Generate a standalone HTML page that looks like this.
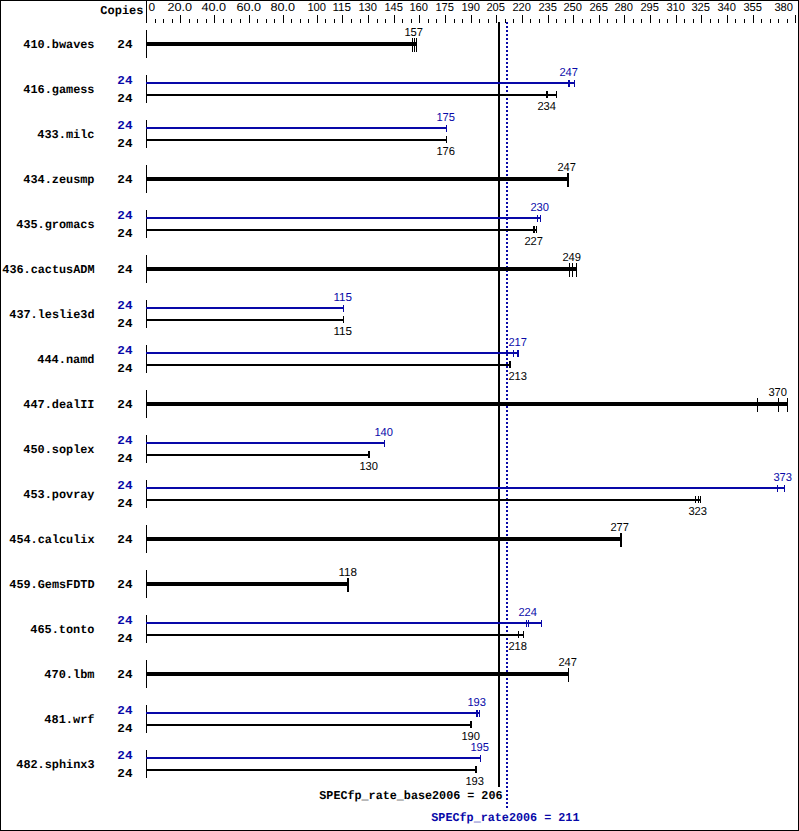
<!DOCTYPE html>
<html><head><meta charset="utf-8"><title>SPECfp_rate2006</title>
<style>
html,body{margin:0;padding:0;background:#fff;}
svg{display:block;}
.r{font-family:"Liberation Sans",sans-serif;font-size:11.6px;stroke-width:0;}
.b{font-family:"Liberation Mono",monospace;font-size:12px;font-weight:bold;}
</style></head><body>
<svg width="799" height="831" viewBox="0 0 799 831" shape-rendering="crispEdges" text-rendering="geometricPrecision">
<rect x="0" y="0" width="799" height="1" fill="#000"/>
<rect x="0" y="830" width="799" height="1" fill="#000"/>
<rect x="0" y="0" width="1" height="831" fill="#000"/>
<rect x="798" y="0" width="1" height="831" fill="#000"/>
<text x="100.3" y="14" textLength="43.2" lengthAdjust="spacingAndGlyphs" class="b" fill="#000">Copies</text>
<rect x="146" y="0" width="1" height="23" fill="#000"/>
<rect x="155" y="19" width="1" height="4" fill="#000"/>
<rect x="163" y="19" width="1" height="4" fill="#000"/>
<rect x="172" y="19" width="1" height="4" fill="#000"/>
<rect x="180" y="15" width="1" height="8" fill="#000"/>
<rect x="189" y="19" width="1" height="4" fill="#000"/>
<rect x="197" y="19" width="1" height="4" fill="#000"/>
<rect x="206" y="19" width="1" height="4" fill="#000"/>
<rect x="214" y="15" width="1" height="8" fill="#000"/>
<rect x="223" y="19" width="1" height="4" fill="#000"/>
<rect x="231" y="19" width="1" height="4" fill="#000"/>
<rect x="240" y="19" width="1" height="4" fill="#000"/>
<rect x="249" y="15" width="1" height="8" fill="#000"/>
<rect x="257" y="19" width="1" height="4" fill="#000"/>
<rect x="266" y="19" width="1" height="4" fill="#000"/>
<rect x="274" y="19" width="1" height="4" fill="#000"/>
<rect x="283" y="15" width="1" height="8" fill="#000"/>
<rect x="291" y="19" width="1" height="4" fill="#000"/>
<rect x="300" y="19" width="1" height="4" fill="#000"/>
<rect x="308" y="19" width="1" height="4" fill="#000"/>
<rect x="317" y="15" width="1" height="8" fill="#000"/>
<rect x="325" y="19" width="1" height="4" fill="#000"/>
<rect x="334" y="19" width="1" height="4" fill="#000"/>
<rect x="342" y="15" width="1" height="8" fill="#000"/>
<rect x="351" y="19" width="1" height="4" fill="#000"/>
<rect x="360" y="19" width="1" height="4" fill="#000"/>
<rect x="368" y="15" width="1" height="8" fill="#000"/>
<rect x="377" y="19" width="1" height="4" fill="#000"/>
<rect x="385" y="19" width="1" height="4" fill="#000"/>
<rect x="394" y="15" width="1" height="8" fill="#000"/>
<rect x="402" y="19" width="1" height="4" fill="#000"/>
<rect x="411" y="19" width="1" height="4" fill="#000"/>
<rect x="419" y="15" width="1" height="8" fill="#000"/>
<rect x="428" y="19" width="1" height="4" fill="#000"/>
<rect x="436" y="19" width="1" height="4" fill="#000"/>
<rect x="445" y="15" width="1" height="8" fill="#000"/>
<rect x="454" y="19" width="1" height="4" fill="#000"/>
<rect x="462" y="19" width="1" height="4" fill="#000"/>
<rect x="471" y="15" width="1" height="8" fill="#000"/>
<rect x="479" y="19" width="1" height="4" fill="#000"/>
<rect x="488" y="19" width="1" height="4" fill="#000"/>
<rect x="496" y="15" width="1" height="8" fill="#000"/>
<rect x="505" y="19" width="1" height="4" fill="#000"/>
<rect x="513" y="19" width="1" height="4" fill="#000"/>
<rect x="522" y="15" width="1" height="8" fill="#000"/>
<rect x="530" y="19" width="1" height="4" fill="#000"/>
<rect x="539" y="19" width="1" height="4" fill="#000"/>
<rect x="548" y="15" width="1" height="8" fill="#000"/>
<rect x="556" y="19" width="1" height="4" fill="#000"/>
<rect x="565" y="19" width="1" height="4" fill="#000"/>
<rect x="573" y="15" width="1" height="8" fill="#000"/>
<rect x="582" y="19" width="1" height="4" fill="#000"/>
<rect x="590" y="19" width="1" height="4" fill="#000"/>
<rect x="599" y="15" width="1" height="8" fill="#000"/>
<rect x="607" y="19" width="1" height="4" fill="#000"/>
<rect x="616" y="19" width="1" height="4" fill="#000"/>
<rect x="624" y="15" width="1" height="8" fill="#000"/>
<rect x="633" y="19" width="1" height="4" fill="#000"/>
<rect x="641" y="19" width="1" height="4" fill="#000"/>
<rect x="650" y="15" width="1" height="8" fill="#000"/>
<rect x="659" y="19" width="1" height="4" fill="#000"/>
<rect x="667" y="19" width="1" height="4" fill="#000"/>
<rect x="676" y="15" width="1" height="8" fill="#000"/>
<rect x="684" y="19" width="1" height="4" fill="#000"/>
<rect x="693" y="19" width="1" height="4" fill="#000"/>
<rect x="701" y="15" width="1" height="8" fill="#000"/>
<rect x="710" y="19" width="1" height="4" fill="#000"/>
<rect x="718" y="19" width="1" height="4" fill="#000"/>
<rect x="727" y="15" width="1" height="8" fill="#000"/>
<rect x="735" y="19" width="1" height="4" fill="#000"/>
<rect x="744" y="19" width="1" height="4" fill="#000"/>
<rect x="753" y="15" width="1" height="8" fill="#000"/>
<rect x="761" y="19" width="1" height="4" fill="#000"/>
<rect x="770" y="19" width="1" height="4" fill="#000"/>
<rect x="778" y="19" width="1" height="4" fill="#000"/>
<rect x="787" y="19" width="1" height="4" fill="#000"/>
<rect x="795" y="15" width="1" height="8" fill="#000"/>
<text x="148.4" y="11" textLength="6.6" lengthAdjust="spacingAndGlyphs" class="r" fill="#000" stroke="#000">0</text>
<text x="167.4" y="11" textLength="24.6" lengthAdjust="spacingAndGlyphs" class="r" fill="#000" stroke="#000">20.0</text>
<text x="201.4" y="11" textLength="24.6" lengthAdjust="spacingAndGlyphs" class="r" fill="#000" stroke="#000">40.0</text>
<text x="236.4" y="11" textLength="24.6" lengthAdjust="spacingAndGlyphs" class="r" fill="#000" stroke="#000">60.0</text>
<text x="270.4" y="11" textLength="24.6" lengthAdjust="spacingAndGlyphs" class="r" fill="#000" stroke="#000">80.0</text>
<text x="307.4" y="11" textLength="18.6" lengthAdjust="spacingAndGlyphs" class="r" fill="#000" stroke="#000">100</text>
<text x="332.4" y="11" textLength="18.6" lengthAdjust="spacingAndGlyphs" class="r" fill="#000" stroke="#000">115</text>
<text x="358.4" y="11" textLength="18.6" lengthAdjust="spacingAndGlyphs" class="r" fill="#000" stroke="#000">130</text>
<text x="384.4" y="11" textLength="18.6" lengthAdjust="spacingAndGlyphs" class="r" fill="#000" stroke="#000">145</text>
<text x="409.4" y="11" textLength="18.6" lengthAdjust="spacingAndGlyphs" class="r" fill="#000" stroke="#000">160</text>
<text x="435.4" y="11" textLength="18.6" lengthAdjust="spacingAndGlyphs" class="r" fill="#000" stroke="#000">175</text>
<text x="461.4" y="11" textLength="18.6" lengthAdjust="spacingAndGlyphs" class="r" fill="#000" stroke="#000">190</text>
<text x="486.4" y="11" textLength="18.6" lengthAdjust="spacingAndGlyphs" class="r" fill="#000" stroke="#000">205</text>
<text x="512.4" y="11" textLength="18.6" lengthAdjust="spacingAndGlyphs" class="r" fill="#000" stroke="#000">220</text>
<text x="538.4" y="11" textLength="18.6" lengthAdjust="spacingAndGlyphs" class="r" fill="#000" stroke="#000">235</text>
<text x="563.4" y="11" textLength="18.6" lengthAdjust="spacingAndGlyphs" class="r" fill="#000" stroke="#000">250</text>
<text x="589.4" y="11" textLength="18.6" lengthAdjust="spacingAndGlyphs" class="r" fill="#000" stroke="#000">265</text>
<text x="614.4" y="11" textLength="18.6" lengthAdjust="spacingAndGlyphs" class="r" fill="#000" stroke="#000">280</text>
<text x="640.4" y="11" textLength="18.6" lengthAdjust="spacingAndGlyphs" class="r" fill="#000" stroke="#000">295</text>
<text x="666.4" y="11" textLength="18.6" lengthAdjust="spacingAndGlyphs" class="r" fill="#000" stroke="#000">310</text>
<text x="691.4" y="11" textLength="18.6" lengthAdjust="spacingAndGlyphs" class="r" fill="#000" stroke="#000">325</text>
<text x="717.4" y="11" textLength="18.6" lengthAdjust="spacingAndGlyphs" class="r" fill="#000" stroke="#000">340</text>
<text x="743.4" y="11" textLength="18.6" lengthAdjust="spacingAndGlyphs" class="r" fill="#000" stroke="#000">355</text>
<text x="774.4" y="11" textLength="18.6" lengthAdjust="spacingAndGlyphs" class="r" fill="#000" stroke="#000">380</text>
<rect x="498" y="22" width="2" height="765" fill="#000"/>
<rect x="506" y="22" width="2" height="2" fill="#0808a8"/>
<rect x="506" y="26" width="2" height="2" fill="#0808a8"/>
<rect x="506" y="30" width="2" height="2" fill="#0808a8"/>
<rect x="506" y="34" width="2" height="2" fill="#0808a8"/>
<rect x="506" y="38" width="2" height="2" fill="#0808a8"/>
<rect x="506" y="42" width="2" height="2" fill="#0808a8"/>
<rect x="506" y="46" width="2" height="2" fill="#0808a8"/>
<rect x="506" y="50" width="2" height="2" fill="#0808a8"/>
<rect x="506" y="54" width="2" height="2" fill="#0808a8"/>
<rect x="506" y="58" width="2" height="2" fill="#0808a8"/>
<rect x="506" y="62" width="2" height="2" fill="#0808a8"/>
<rect x="506" y="66" width="2" height="2" fill="#0808a8"/>
<rect x="506" y="70" width="2" height="2" fill="#0808a8"/>
<rect x="506" y="74" width="2" height="2" fill="#0808a8"/>
<rect x="506" y="78" width="2" height="2" fill="#0808a8"/>
<rect x="506" y="82" width="2" height="2" fill="#0808a8"/>
<rect x="506" y="86" width="2" height="2" fill="#0808a8"/>
<rect x="506" y="90" width="2" height="2" fill="#0808a8"/>
<rect x="506" y="94" width="2" height="2" fill="#0808a8"/>
<rect x="506" y="98" width="2" height="2" fill="#0808a8"/>
<rect x="506" y="102" width="2" height="2" fill="#0808a8"/>
<rect x="506" y="106" width="2" height="2" fill="#0808a8"/>
<rect x="506" y="110" width="2" height="2" fill="#0808a8"/>
<rect x="506" y="114" width="2" height="2" fill="#0808a8"/>
<rect x="506" y="118" width="2" height="2" fill="#0808a8"/>
<rect x="506" y="122" width="2" height="2" fill="#0808a8"/>
<rect x="506" y="126" width="2" height="2" fill="#0808a8"/>
<rect x="506" y="130" width="2" height="2" fill="#0808a8"/>
<rect x="506" y="134" width="2" height="2" fill="#0808a8"/>
<rect x="506" y="138" width="2" height="2" fill="#0808a8"/>
<rect x="506" y="142" width="2" height="2" fill="#0808a8"/>
<rect x="506" y="146" width="2" height="2" fill="#0808a8"/>
<rect x="506" y="150" width="2" height="2" fill="#0808a8"/>
<rect x="506" y="154" width="2" height="2" fill="#0808a8"/>
<rect x="506" y="158" width="2" height="2" fill="#0808a8"/>
<rect x="506" y="162" width="2" height="2" fill="#0808a8"/>
<rect x="506" y="166" width="2" height="2" fill="#0808a8"/>
<rect x="506" y="170" width="2" height="2" fill="#0808a8"/>
<rect x="506" y="174" width="2" height="2" fill="#0808a8"/>
<rect x="506" y="178" width="2" height="2" fill="#0808a8"/>
<rect x="506" y="182" width="2" height="2" fill="#0808a8"/>
<rect x="506" y="186" width="2" height="2" fill="#0808a8"/>
<rect x="506" y="190" width="2" height="2" fill="#0808a8"/>
<rect x="506" y="194" width="2" height="2" fill="#0808a8"/>
<rect x="506" y="198" width="2" height="2" fill="#0808a8"/>
<rect x="506" y="202" width="2" height="2" fill="#0808a8"/>
<rect x="506" y="206" width="2" height="2" fill="#0808a8"/>
<rect x="506" y="210" width="2" height="2" fill="#0808a8"/>
<rect x="506" y="214" width="2" height="2" fill="#0808a8"/>
<rect x="506" y="218" width="2" height="2" fill="#0808a8"/>
<rect x="506" y="222" width="2" height="2" fill="#0808a8"/>
<rect x="506" y="226" width="2" height="2" fill="#0808a8"/>
<rect x="506" y="230" width="2" height="2" fill="#0808a8"/>
<rect x="506" y="234" width="2" height="2" fill="#0808a8"/>
<rect x="506" y="238" width="2" height="2" fill="#0808a8"/>
<rect x="506" y="242" width="2" height="2" fill="#0808a8"/>
<rect x="506" y="246" width="2" height="2" fill="#0808a8"/>
<rect x="506" y="250" width="2" height="2" fill="#0808a8"/>
<rect x="506" y="254" width="2" height="2" fill="#0808a8"/>
<rect x="506" y="258" width="2" height="2" fill="#0808a8"/>
<rect x="506" y="262" width="2" height="2" fill="#0808a8"/>
<rect x="506" y="266" width="2" height="2" fill="#0808a8"/>
<rect x="506" y="270" width="2" height="2" fill="#0808a8"/>
<rect x="506" y="274" width="2" height="2" fill="#0808a8"/>
<rect x="506" y="278" width="2" height="2" fill="#0808a8"/>
<rect x="506" y="282" width="2" height="2" fill="#0808a8"/>
<rect x="506" y="286" width="2" height="2" fill="#0808a8"/>
<rect x="506" y="290" width="2" height="2" fill="#0808a8"/>
<rect x="506" y="294" width="2" height="2" fill="#0808a8"/>
<rect x="506" y="298" width="2" height="2" fill="#0808a8"/>
<rect x="506" y="302" width="2" height="2" fill="#0808a8"/>
<rect x="506" y="306" width="2" height="2" fill="#0808a8"/>
<rect x="506" y="310" width="2" height="2" fill="#0808a8"/>
<rect x="506" y="314" width="2" height="2" fill="#0808a8"/>
<rect x="506" y="318" width="2" height="2" fill="#0808a8"/>
<rect x="506" y="322" width="2" height="2" fill="#0808a8"/>
<rect x="506" y="326" width="2" height="2" fill="#0808a8"/>
<rect x="506" y="330" width="2" height="2" fill="#0808a8"/>
<rect x="506" y="334" width="2" height="2" fill="#0808a8"/>
<rect x="506" y="338" width="2" height="2" fill="#0808a8"/>
<rect x="506" y="342" width="2" height="2" fill="#0808a8"/>
<rect x="506" y="346" width="2" height="2" fill="#0808a8"/>
<rect x="506" y="350" width="2" height="2" fill="#0808a8"/>
<rect x="506" y="354" width="2" height="2" fill="#0808a8"/>
<rect x="506" y="358" width="2" height="2" fill="#0808a8"/>
<rect x="506" y="362" width="2" height="2" fill="#0808a8"/>
<rect x="506" y="366" width="2" height="2" fill="#0808a8"/>
<rect x="506" y="370" width="2" height="2" fill="#0808a8"/>
<rect x="506" y="374" width="2" height="2" fill="#0808a8"/>
<rect x="506" y="378" width="2" height="2" fill="#0808a8"/>
<rect x="506" y="382" width="2" height="2" fill="#0808a8"/>
<rect x="506" y="386" width="2" height="2" fill="#0808a8"/>
<rect x="506" y="390" width="2" height="2" fill="#0808a8"/>
<rect x="506" y="394" width="2" height="2" fill="#0808a8"/>
<rect x="506" y="398" width="2" height="2" fill="#0808a8"/>
<rect x="506" y="402" width="2" height="2" fill="#0808a8"/>
<rect x="506" y="406" width="2" height="2" fill="#0808a8"/>
<rect x="506" y="410" width="2" height="2" fill="#0808a8"/>
<rect x="506" y="414" width="2" height="2" fill="#0808a8"/>
<rect x="506" y="418" width="2" height="2" fill="#0808a8"/>
<rect x="506" y="422" width="2" height="2" fill="#0808a8"/>
<rect x="506" y="426" width="2" height="2" fill="#0808a8"/>
<rect x="506" y="430" width="2" height="2" fill="#0808a8"/>
<rect x="506" y="434" width="2" height="2" fill="#0808a8"/>
<rect x="506" y="438" width="2" height="2" fill="#0808a8"/>
<rect x="506" y="442" width="2" height="2" fill="#0808a8"/>
<rect x="506" y="446" width="2" height="2" fill="#0808a8"/>
<rect x="506" y="450" width="2" height="2" fill="#0808a8"/>
<rect x="506" y="454" width="2" height="2" fill="#0808a8"/>
<rect x="506" y="458" width="2" height="2" fill="#0808a8"/>
<rect x="506" y="462" width="2" height="2" fill="#0808a8"/>
<rect x="506" y="466" width="2" height="2" fill="#0808a8"/>
<rect x="506" y="470" width="2" height="2" fill="#0808a8"/>
<rect x="506" y="474" width="2" height="2" fill="#0808a8"/>
<rect x="506" y="478" width="2" height="2" fill="#0808a8"/>
<rect x="506" y="482" width="2" height="2" fill="#0808a8"/>
<rect x="506" y="486" width="2" height="2" fill="#0808a8"/>
<rect x="506" y="490" width="2" height="2" fill="#0808a8"/>
<rect x="506" y="494" width="2" height="2" fill="#0808a8"/>
<rect x="506" y="498" width="2" height="2" fill="#0808a8"/>
<rect x="506" y="502" width="2" height="2" fill="#0808a8"/>
<rect x="506" y="506" width="2" height="2" fill="#0808a8"/>
<rect x="506" y="510" width="2" height="2" fill="#0808a8"/>
<rect x="506" y="514" width="2" height="2" fill="#0808a8"/>
<rect x="506" y="518" width="2" height="2" fill="#0808a8"/>
<rect x="506" y="522" width="2" height="2" fill="#0808a8"/>
<rect x="506" y="526" width="2" height="2" fill="#0808a8"/>
<rect x="506" y="530" width="2" height="2" fill="#0808a8"/>
<rect x="506" y="534" width="2" height="2" fill="#0808a8"/>
<rect x="506" y="538" width="2" height="2" fill="#0808a8"/>
<rect x="506" y="542" width="2" height="2" fill="#0808a8"/>
<rect x="506" y="546" width="2" height="2" fill="#0808a8"/>
<rect x="506" y="550" width="2" height="2" fill="#0808a8"/>
<rect x="506" y="554" width="2" height="2" fill="#0808a8"/>
<rect x="506" y="558" width="2" height="2" fill="#0808a8"/>
<rect x="506" y="562" width="2" height="2" fill="#0808a8"/>
<rect x="506" y="566" width="2" height="2" fill="#0808a8"/>
<rect x="506" y="570" width="2" height="2" fill="#0808a8"/>
<rect x="506" y="574" width="2" height="2" fill="#0808a8"/>
<rect x="506" y="578" width="2" height="2" fill="#0808a8"/>
<rect x="506" y="582" width="2" height="2" fill="#0808a8"/>
<rect x="506" y="586" width="2" height="2" fill="#0808a8"/>
<rect x="506" y="590" width="2" height="2" fill="#0808a8"/>
<rect x="506" y="594" width="2" height="2" fill="#0808a8"/>
<rect x="506" y="598" width="2" height="2" fill="#0808a8"/>
<rect x="506" y="602" width="2" height="2" fill="#0808a8"/>
<rect x="506" y="606" width="2" height="2" fill="#0808a8"/>
<rect x="506" y="610" width="2" height="2" fill="#0808a8"/>
<rect x="506" y="614" width="2" height="2" fill="#0808a8"/>
<rect x="506" y="618" width="2" height="2" fill="#0808a8"/>
<rect x="506" y="622" width="2" height="2" fill="#0808a8"/>
<rect x="506" y="626" width="2" height="2" fill="#0808a8"/>
<rect x="506" y="630" width="2" height="2" fill="#0808a8"/>
<rect x="506" y="634" width="2" height="2" fill="#0808a8"/>
<rect x="506" y="638" width="2" height="2" fill="#0808a8"/>
<rect x="506" y="642" width="2" height="2" fill="#0808a8"/>
<rect x="506" y="646" width="2" height="2" fill="#0808a8"/>
<rect x="506" y="650" width="2" height="2" fill="#0808a8"/>
<rect x="506" y="654" width="2" height="2" fill="#0808a8"/>
<rect x="506" y="658" width="2" height="2" fill="#0808a8"/>
<rect x="506" y="662" width="2" height="2" fill="#0808a8"/>
<rect x="506" y="666" width="2" height="2" fill="#0808a8"/>
<rect x="506" y="670" width="2" height="2" fill="#0808a8"/>
<rect x="506" y="674" width="2" height="2" fill="#0808a8"/>
<rect x="506" y="678" width="2" height="2" fill="#0808a8"/>
<rect x="506" y="682" width="2" height="2" fill="#0808a8"/>
<rect x="506" y="686" width="2" height="2" fill="#0808a8"/>
<rect x="506" y="690" width="2" height="2" fill="#0808a8"/>
<rect x="506" y="694" width="2" height="2" fill="#0808a8"/>
<rect x="506" y="698" width="2" height="2" fill="#0808a8"/>
<rect x="506" y="702" width="2" height="2" fill="#0808a8"/>
<rect x="506" y="706" width="2" height="2" fill="#0808a8"/>
<rect x="506" y="710" width="2" height="2" fill="#0808a8"/>
<rect x="506" y="714" width="2" height="2" fill="#0808a8"/>
<rect x="506" y="718" width="2" height="2" fill="#0808a8"/>
<rect x="506" y="722" width="2" height="2" fill="#0808a8"/>
<rect x="506" y="726" width="2" height="2" fill="#0808a8"/>
<rect x="506" y="730" width="2" height="2" fill="#0808a8"/>
<rect x="506" y="734" width="2" height="2" fill="#0808a8"/>
<rect x="506" y="738" width="2" height="2" fill="#0808a8"/>
<rect x="506" y="742" width="2" height="2" fill="#0808a8"/>
<rect x="506" y="746" width="2" height="2" fill="#0808a8"/>
<rect x="506" y="750" width="2" height="2" fill="#0808a8"/>
<rect x="506" y="754" width="2" height="2" fill="#0808a8"/>
<rect x="506" y="758" width="2" height="2" fill="#0808a8"/>
<rect x="506" y="762" width="2" height="2" fill="#0808a8"/>
<rect x="506" y="766" width="2" height="2" fill="#0808a8"/>
<rect x="506" y="770" width="2" height="2" fill="#0808a8"/>
<rect x="506" y="774" width="2" height="2" fill="#0808a8"/>
<rect x="506" y="778" width="2" height="2" fill="#0808a8"/>
<rect x="506" y="782" width="2" height="2" fill="#0808a8"/>
<rect x="506" y="786" width="2" height="2" fill="#0808a8"/>
<rect x="506" y="790" width="2" height="2" fill="#0808a8"/>
<rect x="506" y="794" width="2" height="2" fill="#0808a8"/>
<rect x="506" y="798" width="2" height="2" fill="#0808a8"/>
<rect x="506" y="802" width="2" height="2" fill="#0808a8"/>
<rect x="506" y="806" width="2" height="2" fill="#0808a8"/>
<text x="23.3" y="48" textLength="71.2" lengthAdjust="spacingAndGlyphs" class="b" fill="#000">410.bwaves</text>
<rect x="146" y="30" width="1" height="28" fill="#000"/>
<text x="117.3" y="48" textLength="15.2" lengthAdjust="spacingAndGlyphs" class="b" fill="#000">24</text>
<rect x="146" y="42" width="271" height="4" fill="#000"/>
<rect x="412" y="38" width="1" height="14" fill="#000"/>
<rect x="414" y="38" width="1" height="14" fill="#000"/>
<rect x="416" y="38" width="1" height="14" fill="#000"/>
<text x="404.4" y="36" textLength="18.6" lengthAdjust="spacingAndGlyphs" class="r" fill="#000" stroke="#000">157</text>
<text x="23.3" y="93" textLength="71.2" lengthAdjust="spacingAndGlyphs" class="b" fill="#000">416.gamess</text>
<rect x="146" y="75" width="1" height="28" fill="#000"/>
<text x="117.3" y="84" textLength="15.2" lengthAdjust="spacingAndGlyphs" class="b" fill="#0808a8">24</text>
<text x="117.3" y="102" textLength="15.2" lengthAdjust="spacingAndGlyphs" class="b" fill="#000">24</text>
<rect x="146" y="82" width="429" height="2" fill="#0808a8"/>
<rect x="568" y="80" width="1" height="7" fill="#0808a8"/>
<rect x="569" y="80" width="1" height="7" fill="#0808a8"/>
<rect x="574" y="80" width="1" height="7" fill="#0808a8"/>
<text x="559.4" y="76" textLength="18.6" lengthAdjust="spacingAndGlyphs" class="r" fill="#0808a8" stroke="#0808a8">247</text>
<rect x="146" y="94" width="411" height="2" fill="#000"/>
<rect x="546" y="91" width="1" height="7" fill="#000"/>
<rect x="547" y="91" width="1" height="7" fill="#000"/>
<rect x="556" y="91" width="1" height="7" fill="#000"/>
<text x="537.4" y="110" textLength="18.6" lengthAdjust="spacingAndGlyphs" class="r" fill="#000" stroke="#000">234</text>
<text x="37.3" y="138" textLength="57.2" lengthAdjust="spacingAndGlyphs" class="b" fill="#000">433.milc</text>
<rect x="146" y="120" width="1" height="28" fill="#000"/>
<text x="117.3" y="129" textLength="15.2" lengthAdjust="spacingAndGlyphs" class="b" fill="#0808a8">24</text>
<text x="117.3" y="147" textLength="15.2" lengthAdjust="spacingAndGlyphs" class="b" fill="#000">24</text>
<rect x="146" y="127" width="301" height="2" fill="#0808a8"/>
<rect x="446" y="125" width="1" height="7" fill="#0808a8"/>
<text x="436.4" y="121" textLength="18.6" lengthAdjust="spacingAndGlyphs" class="r" fill="#0808a8" stroke="#0808a8">175</text>
<rect x="146" y="139" width="301" height="2" fill="#000"/>
<rect x="446" y="136" width="1" height="7" fill="#000"/>
<text x="436.4" y="155" textLength="18.6" lengthAdjust="spacingAndGlyphs" class="r" fill="#000" stroke="#000">176</text>
<text x="23.3" y="183" textLength="71.2" lengthAdjust="spacingAndGlyphs" class="b" fill="#000">434.zeusmp</text>
<rect x="146" y="165" width="1" height="28" fill="#000"/>
<text x="117.3" y="183" textLength="15.2" lengthAdjust="spacingAndGlyphs" class="b" fill="#000">24</text>
<rect x="146" y="177" width="423" height="4" fill="#000"/>
<rect x="567" y="173" width="1" height="14" fill="#000"/>
<rect x="568" y="173" width="1" height="14" fill="#000"/>
<text x="557.4" y="171" textLength="18.6" lengthAdjust="spacingAndGlyphs" class="r" fill="#000" stroke="#000">247</text>
<text x="16.3" y="228" textLength="78.2" lengthAdjust="spacingAndGlyphs" class="b" fill="#000">435.gromacs</text>
<rect x="146" y="210" width="1" height="28" fill="#000"/>
<text x="117.3" y="219" textLength="15.2" lengthAdjust="spacingAndGlyphs" class="b" fill="#0808a8">24</text>
<text x="117.3" y="237" textLength="15.2" lengthAdjust="spacingAndGlyphs" class="b" fill="#000">24</text>
<rect x="146" y="217" width="395" height="2" fill="#0808a8"/>
<rect x="537" y="215" width="1" height="7" fill="#0808a8"/>
<rect x="540" y="215" width="1" height="7" fill="#0808a8"/>
<text x="530.4" y="211" textLength="18.6" lengthAdjust="spacingAndGlyphs" class="r" fill="#0808a8" stroke="#0808a8">230</text>
<rect x="146" y="229" width="391" height="2" fill="#000"/>
<rect x="533" y="226" width="1" height="7" fill="#000"/>
<rect x="534" y="226" width="1" height="7" fill="#000"/>
<rect x="536" y="226" width="1" height="7" fill="#000"/>
<text x="524.4" y="245" textLength="18.6" lengthAdjust="spacingAndGlyphs" class="r" fill="#000" stroke="#000">227</text>
<text x="2.3" y="273" textLength="92.2" lengthAdjust="spacingAndGlyphs" class="b" fill="#000">436.cactusADM</text>
<rect x="146" y="255" width="1" height="28" fill="#000"/>
<text x="117.3" y="273" textLength="15.2" lengthAdjust="spacingAndGlyphs" class="b" fill="#000">24</text>
<rect x="146" y="267" width="431" height="4" fill="#000"/>
<rect x="569" y="263" width="1" height="14" fill="#000"/>
<rect x="572" y="263" width="1" height="14" fill="#000"/>
<rect x="576" y="263" width="1" height="14" fill="#000"/>
<text x="562.4" y="261" textLength="18.6" lengthAdjust="spacingAndGlyphs" class="r" fill="#000" stroke="#000">249</text>
<text x="9.3" y="318" textLength="85.2" lengthAdjust="spacingAndGlyphs" class="b" fill="#000">437.leslie3d</text>
<rect x="146" y="300" width="1" height="28" fill="#000"/>
<text x="117.3" y="309" textLength="15.2" lengthAdjust="spacingAndGlyphs" class="b" fill="#0808a8">24</text>
<text x="117.3" y="327" textLength="15.2" lengthAdjust="spacingAndGlyphs" class="b" fill="#000">24</text>
<rect x="146" y="307" width="198" height="2" fill="#0808a8"/>
<rect x="343" y="305" width="1" height="7" fill="#0808a8"/>
<text x="333.4" y="301" textLength="18.6" lengthAdjust="spacingAndGlyphs" class="r" fill="#0808a8" stroke="#0808a8">115</text>
<rect x="146" y="319" width="198" height="2" fill="#000"/>
<rect x="343" y="316" width="1" height="7" fill="#000"/>
<text x="333.4" y="335" textLength="18.6" lengthAdjust="spacingAndGlyphs" class="r" fill="#000" stroke="#000">115</text>
<text x="37.3" y="363" textLength="57.2" lengthAdjust="spacingAndGlyphs" class="b" fill="#000">444.namd</text>
<rect x="146" y="345" width="1" height="28" fill="#000"/>
<text x="117.3" y="354" textLength="15.2" lengthAdjust="spacingAndGlyphs" class="b" fill="#0808a8">24</text>
<text x="117.3" y="372" textLength="15.2" lengthAdjust="spacingAndGlyphs" class="b" fill="#000">24</text>
<rect x="146" y="352" width="373" height="2" fill="#0808a8"/>
<rect x="513" y="350" width="1" height="7" fill="#0808a8"/>
<rect x="517" y="350" width="1" height="7" fill="#0808a8"/>
<rect x="518" y="350" width="1" height="7" fill="#0808a8"/>
<text x="508.4" y="346" textLength="18.6" lengthAdjust="spacingAndGlyphs" class="r" fill="#0808a8" stroke="#0808a8">217</text>
<rect x="146" y="364" width="365" height="2" fill="#000"/>
<rect x="509" y="361" width="1" height="7" fill="#000"/>
<rect x="510" y="361" width="1" height="7" fill="#000"/>
<text x="508.4" y="380" textLength="18.6" lengthAdjust="spacingAndGlyphs" class="r" fill="#000" stroke="#000">213</text>
<text x="23.3" y="408" textLength="71.2" lengthAdjust="spacingAndGlyphs" class="b" fill="#000">447.dealII</text>
<rect x="146" y="390" width="1" height="28" fill="#000"/>
<text x="117.3" y="408" textLength="15.2" lengthAdjust="spacingAndGlyphs" class="b" fill="#000">24</text>
<rect x="146" y="402" width="642" height="4" fill="#000"/>
<rect x="757" y="398" width="1" height="14" fill="#000"/>
<rect x="778" y="398" width="1" height="14" fill="#000"/>
<rect x="787" y="398" width="1" height="14" fill="#000"/>
<text x="768.4" y="396" textLength="18.6" lengthAdjust="spacingAndGlyphs" class="r" fill="#000" stroke="#000">370</text>
<text x="23.3" y="453" textLength="71.2" lengthAdjust="spacingAndGlyphs" class="b" fill="#000">450.soplex</text>
<rect x="146" y="435" width="1" height="28" fill="#000"/>
<text x="117.3" y="444" textLength="15.2" lengthAdjust="spacingAndGlyphs" class="b" fill="#0808a8">24</text>
<text x="117.3" y="462" textLength="15.2" lengthAdjust="spacingAndGlyphs" class="b" fill="#000">24</text>
<rect x="146" y="442" width="239" height="2" fill="#0808a8"/>
<rect x="384" y="440" width="1" height="7" fill="#0808a8"/>
<text x="374.4" y="436" textLength="18.6" lengthAdjust="spacingAndGlyphs" class="r" fill="#0808a8" stroke="#0808a8">140</text>
<rect x="146" y="454" width="224" height="2" fill="#000"/>
<rect x="368" y="451" width="1" height="7" fill="#000"/>
<rect x="369" y="451" width="1" height="7" fill="#000"/>
<text x="359.4" y="470" textLength="18.6" lengthAdjust="spacingAndGlyphs" class="r" fill="#000" stroke="#000">130</text>
<text x="23.3" y="498" textLength="71.2" lengthAdjust="spacingAndGlyphs" class="b" fill="#000">453.povray</text>
<rect x="146" y="480" width="1" height="28" fill="#000"/>
<text x="117.3" y="489" textLength="15.2" lengthAdjust="spacingAndGlyphs" class="b" fill="#0808a8">24</text>
<text x="117.3" y="507" textLength="15.2" lengthAdjust="spacingAndGlyphs" class="b" fill="#000">24</text>
<rect x="146" y="487" width="639" height="2" fill="#0808a8"/>
<rect x="777" y="485" width="1" height="7" fill="#0808a8"/>
<rect x="784" y="485" width="1" height="7" fill="#0808a8"/>
<text x="773.4" y="481" textLength="18.6" lengthAdjust="spacingAndGlyphs" class="r" fill="#0808a8" stroke="#0808a8">373</text>
<rect x="146" y="499" width="555" height="2" fill="#000"/>
<rect x="695" y="496" width="1" height="7" fill="#000"/>
<rect x="698" y="496" width="1" height="7" fill="#000"/>
<rect x="700" y="496" width="1" height="7" fill="#000"/>
<text x="688.4" y="515" textLength="18.6" lengthAdjust="spacingAndGlyphs" class="r" fill="#000" stroke="#000">323</text>
<text x="9.3" y="543" textLength="85.2" lengthAdjust="spacingAndGlyphs" class="b" fill="#000">454.calculix</text>
<rect x="146" y="525" width="1" height="28" fill="#000"/>
<text x="117.3" y="543" textLength="15.2" lengthAdjust="spacingAndGlyphs" class="b" fill="#000">24</text>
<rect x="146" y="537" width="476" height="4" fill="#000"/>
<rect x="620" y="533" width="1" height="14" fill="#000"/>
<rect x="621" y="533" width="1" height="14" fill="#000"/>
<text x="610.4" y="531" textLength="18.6" lengthAdjust="spacingAndGlyphs" class="r" fill="#000" stroke="#000">277</text>
<text x="9.3" y="588" textLength="85.2" lengthAdjust="spacingAndGlyphs" class="b" fill="#000">459.GemsFDTD</text>
<rect x="146" y="570" width="1" height="28" fill="#000"/>
<text x="117.3" y="588" textLength="15.2" lengthAdjust="spacingAndGlyphs" class="b" fill="#000">24</text>
<rect x="146" y="582" width="203" height="4" fill="#000"/>
<rect x="347" y="578" width="1" height="14" fill="#000"/>
<rect x="348" y="578" width="1" height="14" fill="#000"/>
<text x="338.4" y="576" textLength="18.6" lengthAdjust="spacingAndGlyphs" class="r" fill="#000" stroke="#000">118</text>
<text x="30.3" y="633" textLength="64.2" lengthAdjust="spacingAndGlyphs" class="b" fill="#000">465.tonto</text>
<rect x="146" y="615" width="1" height="28" fill="#000"/>
<text x="117.3" y="624" textLength="15.2" lengthAdjust="spacingAndGlyphs" class="b" fill="#0808a8">24</text>
<text x="117.3" y="642" textLength="15.2" lengthAdjust="spacingAndGlyphs" class="b" fill="#000">24</text>
<rect x="146" y="622" width="396" height="2" fill="#0808a8"/>
<rect x="526" y="620" width="1" height="7" fill="#0808a8"/>
<rect x="528" y="620" width="1" height="7" fill="#0808a8"/>
<rect x="541" y="620" width="1" height="7" fill="#0808a8"/>
<text x="518.4" y="616" textLength="18.6" lengthAdjust="spacingAndGlyphs" class="r" fill="#0808a8" stroke="#0808a8">224</text>
<rect x="146" y="634" width="378" height="2" fill="#000"/>
<rect x="518" y="631" width="1" height="7" fill="#000"/>
<rect x="523" y="631" width="1" height="7" fill="#000"/>
<text x="508.4" y="650" textLength="18.6" lengthAdjust="spacingAndGlyphs" class="r" fill="#000" stroke="#000">218</text>
<text x="44.3" y="678" textLength="50.2" lengthAdjust="spacingAndGlyphs" class="b" fill="#000">470.lbm</text>
<rect x="146" y="660" width="1" height="28" fill="#000"/>
<text x="117.3" y="678" textLength="15.2" lengthAdjust="spacingAndGlyphs" class="b" fill="#000">24</text>
<rect x="146" y="672" width="423" height="4" fill="#000"/>
<rect x="568" y="668" width="1" height="14" fill="#000"/>
<text x="558.4" y="666" textLength="18.6" lengthAdjust="spacingAndGlyphs" class="r" fill="#000" stroke="#000">247</text>
<text x="44.3" y="723" textLength="50.2" lengthAdjust="spacingAndGlyphs" class="b" fill="#000">481.wrf</text>
<rect x="146" y="705" width="1" height="28" fill="#000"/>
<text x="117.3" y="714" textLength="15.2" lengthAdjust="spacingAndGlyphs" class="b" fill="#0808a8">24</text>
<text x="117.3" y="732" textLength="15.2" lengthAdjust="spacingAndGlyphs" class="b" fill="#000">24</text>
<rect x="146" y="712" width="334" height="2" fill="#0808a8"/>
<rect x="476" y="710" width="1" height="7" fill="#0808a8"/>
<rect x="477" y="710" width="1" height="7" fill="#0808a8"/>
<rect x="479" y="710" width="1" height="7" fill="#0808a8"/>
<text x="467.4" y="706" textLength="18.6" lengthAdjust="spacingAndGlyphs" class="r" fill="#0808a8" stroke="#0808a8">193</text>
<rect x="146" y="724" width="326" height="2" fill="#000"/>
<rect x="470" y="721" width="1" height="7" fill="#000"/>
<rect x="471" y="721" width="1" height="7" fill="#000"/>
<text x="461.4" y="740" textLength="18.6" lengthAdjust="spacingAndGlyphs" class="r" fill="#000" stroke="#000">190</text>
<text x="16.3" y="768" textLength="78.2" lengthAdjust="spacingAndGlyphs" class="b" fill="#000">482.sphinx3</text>
<rect x="146" y="750" width="1" height="28" fill="#000"/>
<text x="117.3" y="759" textLength="15.2" lengthAdjust="spacingAndGlyphs" class="b" fill="#0808a8">24</text>
<text x="117.3" y="777" textLength="15.2" lengthAdjust="spacingAndGlyphs" class="b" fill="#000">24</text>
<rect x="146" y="757" width="335" height="2" fill="#0808a8"/>
<rect x="480" y="755" width="1" height="7" fill="#0808a8"/>
<text x="470.4" y="751" textLength="18.6" lengthAdjust="spacingAndGlyphs" class="r" fill="#0808a8" stroke="#0808a8">195</text>
<rect x="146" y="769" width="331" height="2" fill="#000"/>
<rect x="475" y="766" width="1" height="7" fill="#000"/>
<rect x="476" y="766" width="1" height="7" fill="#000"/>
<text x="465.4" y="785" textLength="18.6" lengthAdjust="spacingAndGlyphs" class="r" fill="#000" stroke="#000">193</text>
<text x="319.3" y="799" textLength="183.2" lengthAdjust="spacingAndGlyphs" class="b" fill="#000">SPECfp_rate_base2006 = 206</text>
<text x="431.3" y="821" textLength="148.2" lengthAdjust="spacingAndGlyphs" class="b" fill="#0808a8">SPECfp_rate2006 = 211</text>
</svg>
</body></html>
